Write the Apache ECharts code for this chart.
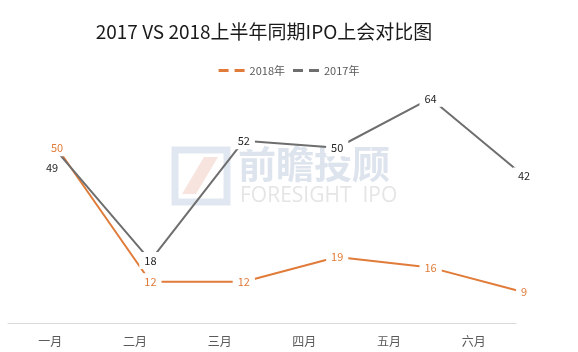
<!DOCTYPE html>
<html>
<head>
    <meta charset="utf-8">
    <title>2017 VS 2018上半年同期IPO上会对比图</title>
    <style>
        html, body { margin: 0; padding: 0; background: #fff; }
        #main { width: 578px; height: 352px; }
    </style>
</head>
<body>
    <div id="main"></div>
    <script src="https://cdn.jsdelivr.net/npm/echarts@6/dist/echarts.min.js"></script>
    <script type="text/javascript">

        const MONTHS = ['一月', '二月', '三月', '四月', '五月', '六月'];
        const SERIES_NAMES = ['2018年', '2017年'];
        const DATA_2018 = [50, 12, 12, 19, 16, 9];
        const DATA_2017 = [49, 18, 52, 50, 64, 42];

        const ORANGE = '#e07b39';
        const GRAY = '#6e6e6e';
        const FONT = '"Noto Sans CJK SC", "Noto Sans", sans-serif';

        let myChart = echarts.init(document.getElementById('main'));

        function labelData(values, firstOffset) {
            return values.map(function (v, i) {
                if (i === 0 && firstOffset) {
                    return { value: v, label: { offset: firstOffset, backgroundColor: 'transparent' } };
                }
                return v;
            });
        }

        function makeLine(name, values, color, labelColor, firstOffset) {
            return {
                name: name,
                type: 'line',
                xAxisIndex: 1,
                yAxisIndex: 1,
                data: labelData(values, firstOffset),
                symbol: 'circle',
                symbolSize: 1,
                showSymbol: true,
                lineStyle: { color: color, width: 2 },
                itemStyle: { color: color },
                label: {
                    show: true,
                    position: 'inside',
                    color: labelColor,
                    fontSize: 11,
                    fontFamily: FONT,
                    backgroundColor: '#fff',
                    padding: [3, 5]
                }
            };
        }

        let option = {
            backgroundColor: '#fff',
            animation: false,
            title: {
                text: '2017 VS 2018上半年同期IPO上会对比图',
                left: 259,
                textAlign: 'center',
                top: 17,
                textStyle: { fontSize: 19, fontWeight: 'normal', color: '#1a1a1a', fontFamily: FONT }
            },
            legend: {
                data: SERIES_NAMES,
                left: 'center',
                top: 60,
                icon: 'path://M0 0H10V3H0Z M16 0H26V3H16Z',
                itemWidth: 26,
                itemHeight: 3,
                itemGap: 8,
                textStyle: { fontSize: 11, color: '#595959', fontFamily: FONT }
            },
            graphic: [
                {
                    type: 'rect', z: 0, silent: true,
                    shape: { x: 175, y: 150, width: 52, height: 52 },
                    style: { fill: 'none', stroke: '#e1e7f0', lineWidth: 7 }
                },
                {
                    type: 'polygon', z: 0, silent: true,
                    shape: { points: [[182, 194], [196, 194], [218, 157], [204, 157]] },
                    style: { fill: '#f8e4df' }
                },
                {
                    type: 'text', z: 0, silent: true, left: 238, top: 145,
                    style: { text: '前瞻投顾', font: 'bold 38px ' + FONT, fill: '#dde4ed' }
                },
                {
                    type: 'text', z: 0, silent: true, left: 240, top: 186,
                    style: { text: 'FORESIGHT  IPO', font: '21px "Open Sans", sans-serif', fill: '#e5e5e5' }
                }
            ],
            grid: [
                { left: 8, width: 508, top: 42, height: 281 },
                { left: 57, width: 467, top: 42, height: 282 }
            ],
            xAxis: [
                {
                    type: 'category',
                    gridIndex: 0,
                    data: MONTHS,
                    boundaryGap: true,
                    axisLine: { lineStyle: { color: '#d9d9d9', width: 1 } },
                    axisTick: { show: false },
                    axisLabel: { color: '#595959', fontSize: 12, margin: 12, fontFamily: FONT }
                },
                {
                    type: 'category',
                    gridIndex: 1,
                    data: MONTHS,
                    boundaryGap: false,
                    show: false
                }
            ],
            yAxis: [
                { type: 'value', gridIndex: 0, min: 0, max: 80, show: false },
                { type: 'value', gridIndex: 1, min: 0, max: 80, show: false }
            ],
            series: [
                makeLine(SERIES_NAMES[0], DATA_2018, ORANGE, ORANGE, null),
                makeLine(SERIES_NAMES[1], DATA_2017, GRAY, '#262626', [-5, 17])
            ]
        };

        myChart.setOption(option);

    </script>
</body>
</html>
